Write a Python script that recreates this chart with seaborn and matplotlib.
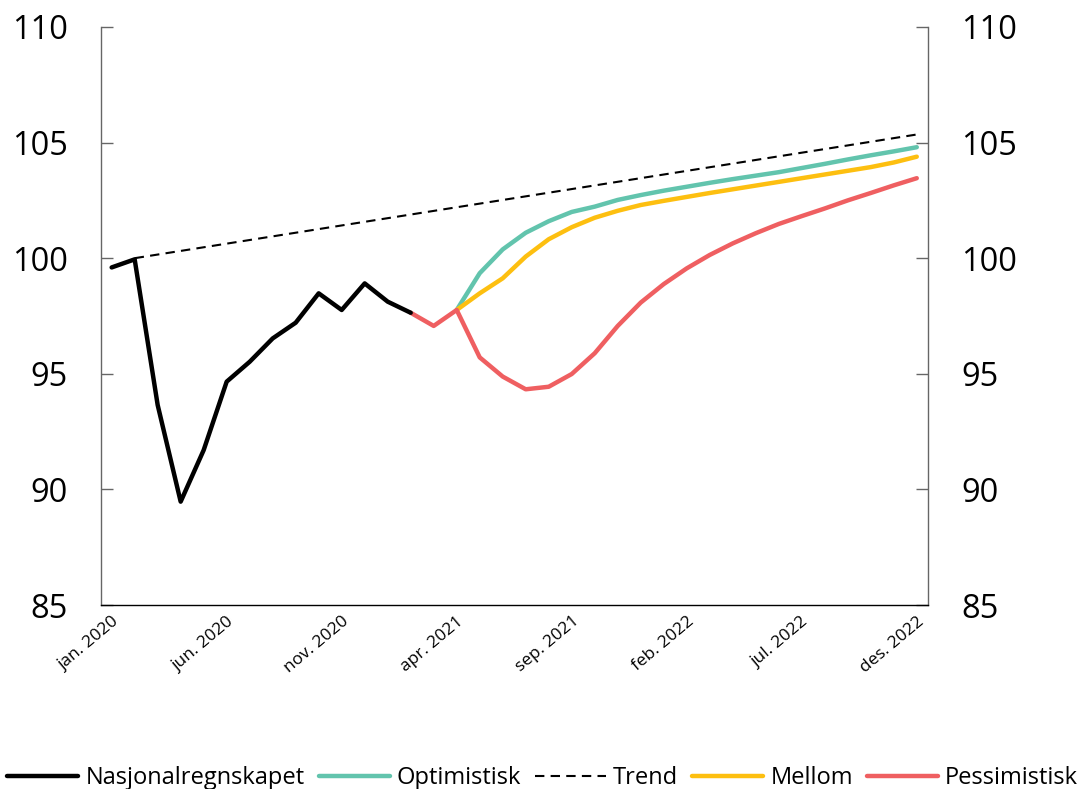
import numpy as np
import pandas as pd
import matplotlib
matplotlib.use("Agg")
import matplotlib.pyplot as plt
import seaborn as sns

# Månedsindeks: 0 = jan. 2020, 35 = des. 2022
tick_labels = ["jan. 2020", "jun. 2020", "nov. 2020", "apr. 2021",
               "sep. 2021", "feb. 2022", "jul. 2022", "des. 2022"]

nasjonal_x = list(range(0, 14))
nasjonal = [99.6, 99.95, 93.65, 89.47, 91.7, 94.66, 95.52, 96.53, 97.21,
            98.48, 97.76, 98.91, 98.12, 97.64]

pessimistisk_x = list(range(13, 36))
pessimistisk = [97.64, 97.07, 97.76, 95.71, 94.88, 94.33, 94.44, 94.99, 95.89,
                97.07, 98.08, 98.88, 99.56, 100.14, 100.64, 101.08, 101.48,
                101.82, 102.15, 102.5, 102.82, 103.15, 103.46]

scenario_x = list(range(15, 36))
optimistisk = [97.76, 99.35, 100.38, 101.1, 101.6, 102.0, 102.23, 102.52, 102.73,
               102.92, 103.09, 103.26, 103.42, 103.57, 103.72, 103.9, 104.08,
               104.27, 104.45, 104.62, 104.8]
mellom = [97.76, 98.48, 99.13, 100.07, 100.82, 101.34, 101.75, 102.05, 102.3,
          102.48, 102.65, 102.82, 102.98, 103.14, 103.3, 103.46, 103.62,
          103.78, 103.94, 104.14, 104.39]

trend_x = [1, 35]
trend = [100.0, 105.35]

farger = {
    "Nasjonalregnskapet": "#000000",
    "Optimistisk": "#62c4ad",
    "Trend": "#000000",
    "Mellom": "#fdbf10",
    "Pessimistisk": "#ef5f61",
}

sns.set_style("white")
plt.rcParams["font.family"] = ["Open Sans", "DejaVu Sans"]
plt.rcParams["text.color"] = "black"
plt.rcParams["xtick.color"] = "black"
plt.rcParams["ytick.color"] = "black"

fig = plt.figure(figsize=(10.81, 7.89), dpi=100)
ax = fig.add_axes([0.0934, 0.2332, 0.7651, 0.7326])

lw = 3.2
sns.lineplot(x=trend_x, y=trend, ax=ax, color=farger["Trend"], lw=1.5,
             linestyle=(0, (4.5, 3)), label="Trend")
sns.lineplot(x=scenario_x, y=optimistisk, ax=ax, color=farger["Optimistisk"],
             lw=lw, label="Optimistisk")
sns.lineplot(x=scenario_x, y=mellom, ax=ax, color=farger["Mellom"],
             lw=lw, label="Mellom")
sns.lineplot(x=pessimistisk_x, y=pessimistisk, ax=ax, color=farger["Pessimistisk"],
             lw=lw, label="Pessimistisk")
sns.lineplot(x=nasjonal_x, y=nasjonal, ax=ax, color=farger["Nasjonalregnskapet"],
             lw=lw, label="Nasjonalregnskapet")

ax.set_xlim(-0.465, 35.49)
ax.set_ylim(85, 110)
ax.set_yticks([85, 90, 95, 100, 105, 110])
ax.set_xticks(range(0, 36, 5))
ax.set_xticklabels(tick_labels, rotation=40, ha="right", va="top",
                   rotation_mode="anchor", fontsize=12.5)
ax.set_xlabel("")
ax.set_ylabel("")

ax.tick_params(axis="y", direction="in", length=8.5, width=1,
               left=True, right=True, labelleft=True, labelright=True,
               labelsize=23.5, pad=24)
ax.tick_params(axis="y", which="both", color="#666666")
ax.tick_params(axis="x", length=0, pad=6)

for side in ["left", "right"]:
    ax.spines[side].set_color("#666666")
    ax.spines[side].set_linewidth(1)
ax.spines["bottom"].set_color("#000000")
ax.spines["bottom"].set_linewidth(1)
ax.spines["top"].set_visible(False)

handles, labels = ax.get_legend_handles_labels()
orden = ["Nasjonalregnskapet", "Optimistisk", "Trend", "Mellom", "Pessimistisk"]
hmap = dict(zip(labels, handles))
ax.legend([hmap[n] for n in orden], orden, loc="lower center",
          bbox_to_anchor=(0.502, -0.025), bbox_transform=fig.transFigure,
          ncol=5, frameon=False, fontsize=17, handlelength=3.0,
          handletextpad=0.3, columnspacing=0.6, borderaxespad=0.4)

fig.savefig("out.png", dpi=100)
